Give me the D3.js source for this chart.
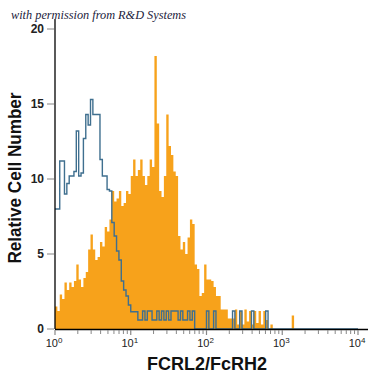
<!DOCTYPE html>
<html><head><meta charset="utf-8">
<script src="https://cdn.jsdelivr.net/npm/d3@7"></script>
<style>html,body{margin:0;padding:0;background:#fff;}svg{display:block;}</style>
</head><body>
<svg id="c" width="375" height="375"></svg>
<script>
// channels: 32 per decade, channel i spans 10^(i/32) .. 10^((i+1)/32)
const channelsPerDecade = 32;
const xDecades = [1, 10, 100, 1000, 10000];
const xTickExponents = ["0", "1", "2", "3", "4"];
const yTicks = [0, 5, 10, 15, 20];
const stainedCounts = [
 1.5,1.2,2.3,2.0,3.1,2.6,3.1,2.8,3.2,4.3,
 3.3,2.8,3.4,3.8,5.3,6.3,5.3,4.6,4.8,5.8,
 5.5,6.8,6.5,7.3,9.2,8.5,8.7,9.2,8.2,8.4,
 9.2,9.0,10.2,11.3,10.2,10.6,11.3,10.2,9.6,10.2,
 11.3,10.8,18.2,13.7,9.2,8.8,10.2,14.3,12.2,11.6,
 10.5,10.2,6.2,5.3,5.8,5.0,6.1,7.3,7.0,4.3,
 4.0,2.2,2.4,4.3,3.3,3.3,3.2,2.8,2.2,2.2,
 1.3,1.3,1.3,0.7,0.7,0.7,1.3,0.3,1.2,0.3,
 1.3,0.5,1.2,0.3,1.2,0.4,1.2,0.3,1.2,0.6,
 0,0.3,0,0,0,0,0,0,0,0,
 0.9,0,0,0,0,0,0,0,0,0,
 0,0,0,0,0,0,0,0,0,0,
 0,0,0,0,0,0,0,0
];
const isotypeCounts = [
 8.0,8.0,11.2,11.2,9.0,9.7,10.2,10.2,10.5,13.2,
 10.2,10.4,12.7,14.3,13.6,15.3,14.3,14.3,14.3,11.3,
 10.2,10.2,9.3,9.2,7.1,6.2,5.2,4.6,3.2,2.6,
 2.2,1.6,1.15,1.15,1.15,0.6,0.6,1.2,0.6,1.2,
 1.2,0.6,0.6,1.2,0.6,1.2,0.6,1.2,0.6,1.2,
 1.2,1.2,0.6,1.2,0.6,0.6,1.2,0.6,1.2,0,
 0,0,0,0,1.2,0,0,1.2,0,0,
 0,0,0,0,0,1.2,0,0,1.2,0,
 0,0,0,1.2,0,0,0,0,0,1.2,
 0,0,0,0,0,0,0,0,0,0,
 0,0,0,0,0,0,0,0,0,0,
 0,0,0,0,0,0,0,0,0,0,
 0,0,0,0,0,0,0,0
];

const svg = d3.select("#c");
const x = d3.scaleLog().domain([1, 10000]).range([55, 358]);
const y = d3.scaleLinear().domain([0, 20]).range([329, 29]);

function toPoints(arr) {
  const pts = arr.map((v, i) => ({e: Math.pow(10, i / channelsPerDecade), v}));
  pts.push({e: Math.pow(10, arr.length / channelsPerDecade), v: arr[arr.length - 1]});
  return pts;
}

const area = d3.area().curve(d3.curveStepAfter)
  .x(d => x(d.e)).y0(y(0)).y1(d => y(d.v));
svg.append("path").datum(toPoints(stainedCounts))
  .attr("d", area).attr("fill", "#f7a21b");

const line = d3.line().curve(d3.curveStepAfter)
  .x(d => x(d.e)).y(d => y(d.v));
svg.append("path").datum(toPoints(isotypeCounts))
  .attr("d", line).attr("fill", "none")
  .attr("stroke", "#3f6f8f").attr("stroke-width", 1.4);

// y axis
svg.append("line").attr("x1", 55).attr("x2", 55).attr("y1", 19).attr("y2", 329)
  .attr("stroke", "#000").attr("stroke-width", 1.3);
const yg = svg.append("g");
yTicks.forEach(t => {
  yg.append("line").attr("x1", 47).attr("x2", 54).attr("y1", y(t)).attr("y2", y(t))
    .attr("stroke", "#999").attr("stroke-width", 1.2);
  yg.append("text").attr("x", 44).attr("y", y(t) + 4.3).attr("text-anchor", "end")
    .attr("font-family", "Liberation Sans, Arial, sans-serif").attr("font-weight", "bold")
    .attr("font-size", 12).attr("fill", "#222").text(t);
});

// x axis
svg.append("line").attr("x1", 55).attr("x2", 368).attr("y1", 329.5).attr("y2", 329.5)
  .attr("stroke", "#000").attr("stroke-width", 1.3);
const minor = [];
for (let d = 0; d < 4; d++) for (let m = 2; m <= 9; m++) minor.push(m * Math.pow(10, d));
svg.append("g").selectAll("line").data(minor).join("line")
  .attr("x1", d => x(d)).attr("x2", d => x(d)).attr("y1", 330).attr("y2", 334)
  .attr("stroke", "#888").attr("stroke-width", 1);
svg.append("g").selectAll("line").data(xDecades).join("line")
  .attr("x1", d => x(d)).attr("x2", d => x(d)).attr("y1", 330).attr("y2", 335)
  .attr("stroke", "#888").attr("stroke-width", 1.2);
const xl = svg.append("g");
xDecades.forEach((d, i) => {
  const t = xl.append("text").attr("x", x(d) - 1).attr("y", 347).attr("text-anchor", "middle")
    .attr("font-family", "Liberation Sans, Arial, sans-serif").attr("font-size", 11).attr("fill", "#222");
  t.append("tspan").text("10");
  t.append("tspan").attr("dy", -4).attr("font-size", 8).text(xTickExponents[i]);
});

// titles
svg.append("text").attr("x", 207).attr("y", 370).attr("text-anchor", "middle")
  .attr("font-family", "Liberation Sans, Arial, sans-serif").attr("font-weight", "bold")
  .attr("font-size", 18).attr("fill", "#111").text("FCRL2/FcRH2");
svg.append("text").attr("transform", "translate(21,178) rotate(-90)").attr("text-anchor", "middle")
  .attr("font-family", "Liberation Sans, Arial, sans-serif").attr("font-weight", "bold")
  .attr("font-size", 17.5).attr("fill", "#111")
  .attr("textLength", 171).attr("lengthAdjust", "spacingAndGlyphs").text("Relative Cell Number");
svg.append("text").attr("x", 11).attr("y", 19)
  .attr("font-family", "Liberation Serif, serif").attr("font-style", "italic")
  .attr("font-size", 13).attr("fill", "#1c1c3c")
  .attr("textLength", 175).attr("lengthAdjust", "spacingAndGlyphs")
  .text("with permission from R&D Systems");
</script>
</body></html>
